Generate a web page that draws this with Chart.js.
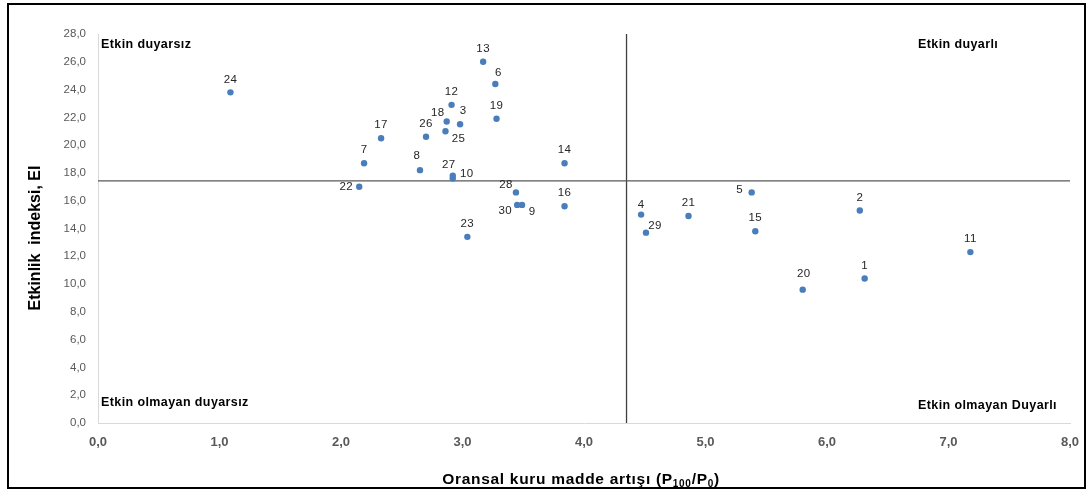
<!DOCTYPE html>
<html>
<head>
<meta charset="utf-8">
<script src="https://cdn.jsdelivr.net/npm/chart.js@4.4.0/dist/chart.umd.min.js"></script>
<style>
  html, body { margin: 0; padding: 0; background: #fff; }
</style>
</head>
<body>
<canvas id="chart" width="1088" height="493"></canvas>
<script>
// Nokta numaraları ve değerleri
const pointIds = [1, 2, 3, 4, 5, 6, 7, 8, 9, 10,
                  11, 12, 13, 14, 15, 16, 17, 18, 19, 20,
                  21, 22, 23, 24, 25, 26, 27, 28, 29, 30];
const xValues  = [6.31, 6.27, 2.98, 4.47, 5.38, 3.27, 2.19, 2.65, 3.49, 2.92,
                  7.18, 2.91, 3.17, 3.84, 5.41, 3.84, 2.33, 2.87, 3.28, 5.80,
                  4.86, 2.15, 3.04, 1.09, 2.86, 2.70, 2.92, 3.44, 4.51, 3.45];
const yValues  = [10.4, 15.3, 21.5, 15.0, 16.6, 24.4, 18.7, 18.2, 15.7, 17.6,
                  12.3, 22.9, 26.0, 18.7, 13.8, 15.6, 20.5, 21.7, 21.9, 9.6,
                  14.9, 17.0, 13.4, 23.8, 21.0, 20.6, 17.8, 16.6, 13.7, 15.7];

// Ortalama çizgileri
const meanX = 4.35;
const meanY = 17.43;

// Eksen sınırları
const xMin = 0, xMax = 8, xStep = 1;
const yMin = 0, yMax = 28, yStep = 2;

const quadrantLabels = ["Etkin duyarsız", "Etkin duyarlı", "Etkin olmayan duyarsız", "Etkin olmayan Duyarlı"];
const yTitle = "Etkinlik  indeksi, EI";

// Etiket kaydırmaları (varsayılan: noktanın üstü)
const labelOffsets = {
  6: [3, -11], 10: [14, -5], 18: [-9, -9], 3: [3, -13], 22: [-13, 0],
  25: [13, 8], 27: [-4, -11], 28: [-10, -8], 30: [-12, 6], 9: [10, 7],
  5: [-12, -3], 4: [0, -10], 29: [9, -7], 8: [-3, -14], 20: [1, -16]
};

const FONT = "'Liberation Sans', Arial, sans-serif";
const fmt = v => Number(v).toFixed(1).replace(".", ",");

const points = pointIds.map((id, i) => ({ x: xValues[i], y: yValues[i], id }));

const decorPlugin = {
  id: "decor",
  beforeDraw(chart) {
    const { ctx, width, height } = chart;
    ctx.save();
    ctx.fillStyle = "#fff";
    ctx.fillRect(0, 0, width, height);
    ctx.restore();
  },
  afterDraw(chart) {
    const { ctx, chartArea: a } = chart;
    const sx = chart.scales.x, sy = chart.scales.y;
    ctx.save();

    // nokta etiketleri
    ctx.font = "11.5px " + FONT;
    ctx.letterSpacing = "0.4px";
    ctx.fillStyle = "#262626";
    ctx.textAlign = "center";
    ctx.textBaseline = "middle";
    points.forEach(p => {
      const off = labelOffsets[p.id] || [0, -13];
      const px = sx.getPixelForValue(p.x) + off[0];
      const py = sy.getPixelForValue(p.y) + off[1];
      ctx.fillText(String(p.id), px, py);
    });

    // bölge başlıkları
    ctx.font = "bold 12.5px " + FONT;
    ctx.letterSpacing = "0.4px";
    ctx.fillStyle = "#000";
    ctx.textAlign = "left";
    ctx.fillText(quadrantLabels[0], a.left + 3, a.top + 11);
    ctx.fillText(quadrantLabels[1], a.left + 820, a.top + 11);
    ctx.fillText(quadrantLabels[2], a.left + 3, a.bottom - 20);
    ctx.fillText(quadrantLabels[3], a.left + 820, a.bottom - 17);

    // y ekseni başlığı
    ctx.save();
    ctx.letterSpacing = "0px";
    ctx.translate(36, 238);
    ctx.rotate(-Math.PI / 2);
    ctx.font = "bold 16px " + FONT;
    ctx.textAlign = "center";
    ctx.fillText(yTitle, 0, 0);
    ctx.restore();

    // x ekseni başlığı (alt simgeli)
    const parts = [
      ["Oransal kuru madde artışı (P", 15.5, 0],
      ["100", 10, 3],
      ["/P", 15.5, 0],
      ["0", 10, 3],
      [")", 15.5, 0]
    ];
    ctx.letterSpacing = "0.7px";
    let total = 0;
    parts.forEach(pt => { ctx.font = "bold " + pt[1] + "px " + FONT; total += ctx.measureText(pt[0]).width; });
    let x = 581 - total / 2;
    ctx.textAlign = "left";
    ctx.textBaseline = "alphabetic";
    parts.forEach(pt => {
      ctx.font = "bold " + pt[1] + "px " + FONT;
      ctx.fillText(pt[0], x, 484 + pt[2]);
      x += ctx.measureText(pt[0]).width;
    });

    // dış çerçeve
    ctx.letterSpacing = "0px";
    ctx.strokeStyle = "#000";
    ctx.lineWidth = 2;
    ctx.strokeRect(8, 4, 1077, 484);
    ctx.restore();
  }
};

new Chart(document.getElementById("chart"), {
  type: "scatter",
  data: {
    datasets: [
      {
        data: points,
        pointRadius: 3.2,
        pointBackgroundColor: "#4a7ebb",
        pointBorderWidth: 0
      },
      {
        data: [{ x: xMin, y: meanY }, { x: xMax, y: meanY }],
        showLine: true,
        borderColor: "#595959",
        borderWidth: 1.3,
        pointRadius: 0
      },
      {
        data: [{ x: meanX, y: yMin }, { x: meanX, y: yMax }],
        showLine: true,
        borderColor: "#404040",
        borderWidth: 1.3,
        pointRadius: 0
      }
    ]
  },
  options: {
    responsive: false,
    animation: false,
    devicePixelRatio: 1,
    layout: { padding: { top: 34, right: 18, left: 0, bottom: 0 } },
    plugins: { legend: { display: false }, tooltip: { enabled: false } },
    scales: {
      x: {
        type: "linear",
        min: xMin, max: xMax,
        ticks: {
          stepSize: xStep,
          callback: fmt,
          color: "#595959",
          font: { family: FONT, size: 13, weight: "bold" },
          padding: 4
        },
        grid: { display: false },
        border: { color: "#d9d9d9", width: 1 },
        afterFit(s) { s.height = 70; }
      },
      y: {
        type: "linear",
        min: yMin, max: yMax,
        ticks: {
          stepSize: yStep,
          callback: fmt,
          color: "#595959",
          font: { family: FONT, size: 11.5 },
          padding: 4
        },
        grid: { display: false },
        border: { color: "#d9d9d9", width: 1 },
        afterFit(s) { s.width = 98; }
      }
    }
  },
  plugins: [decorPlugin]
});
</script>
</body>
</html>
